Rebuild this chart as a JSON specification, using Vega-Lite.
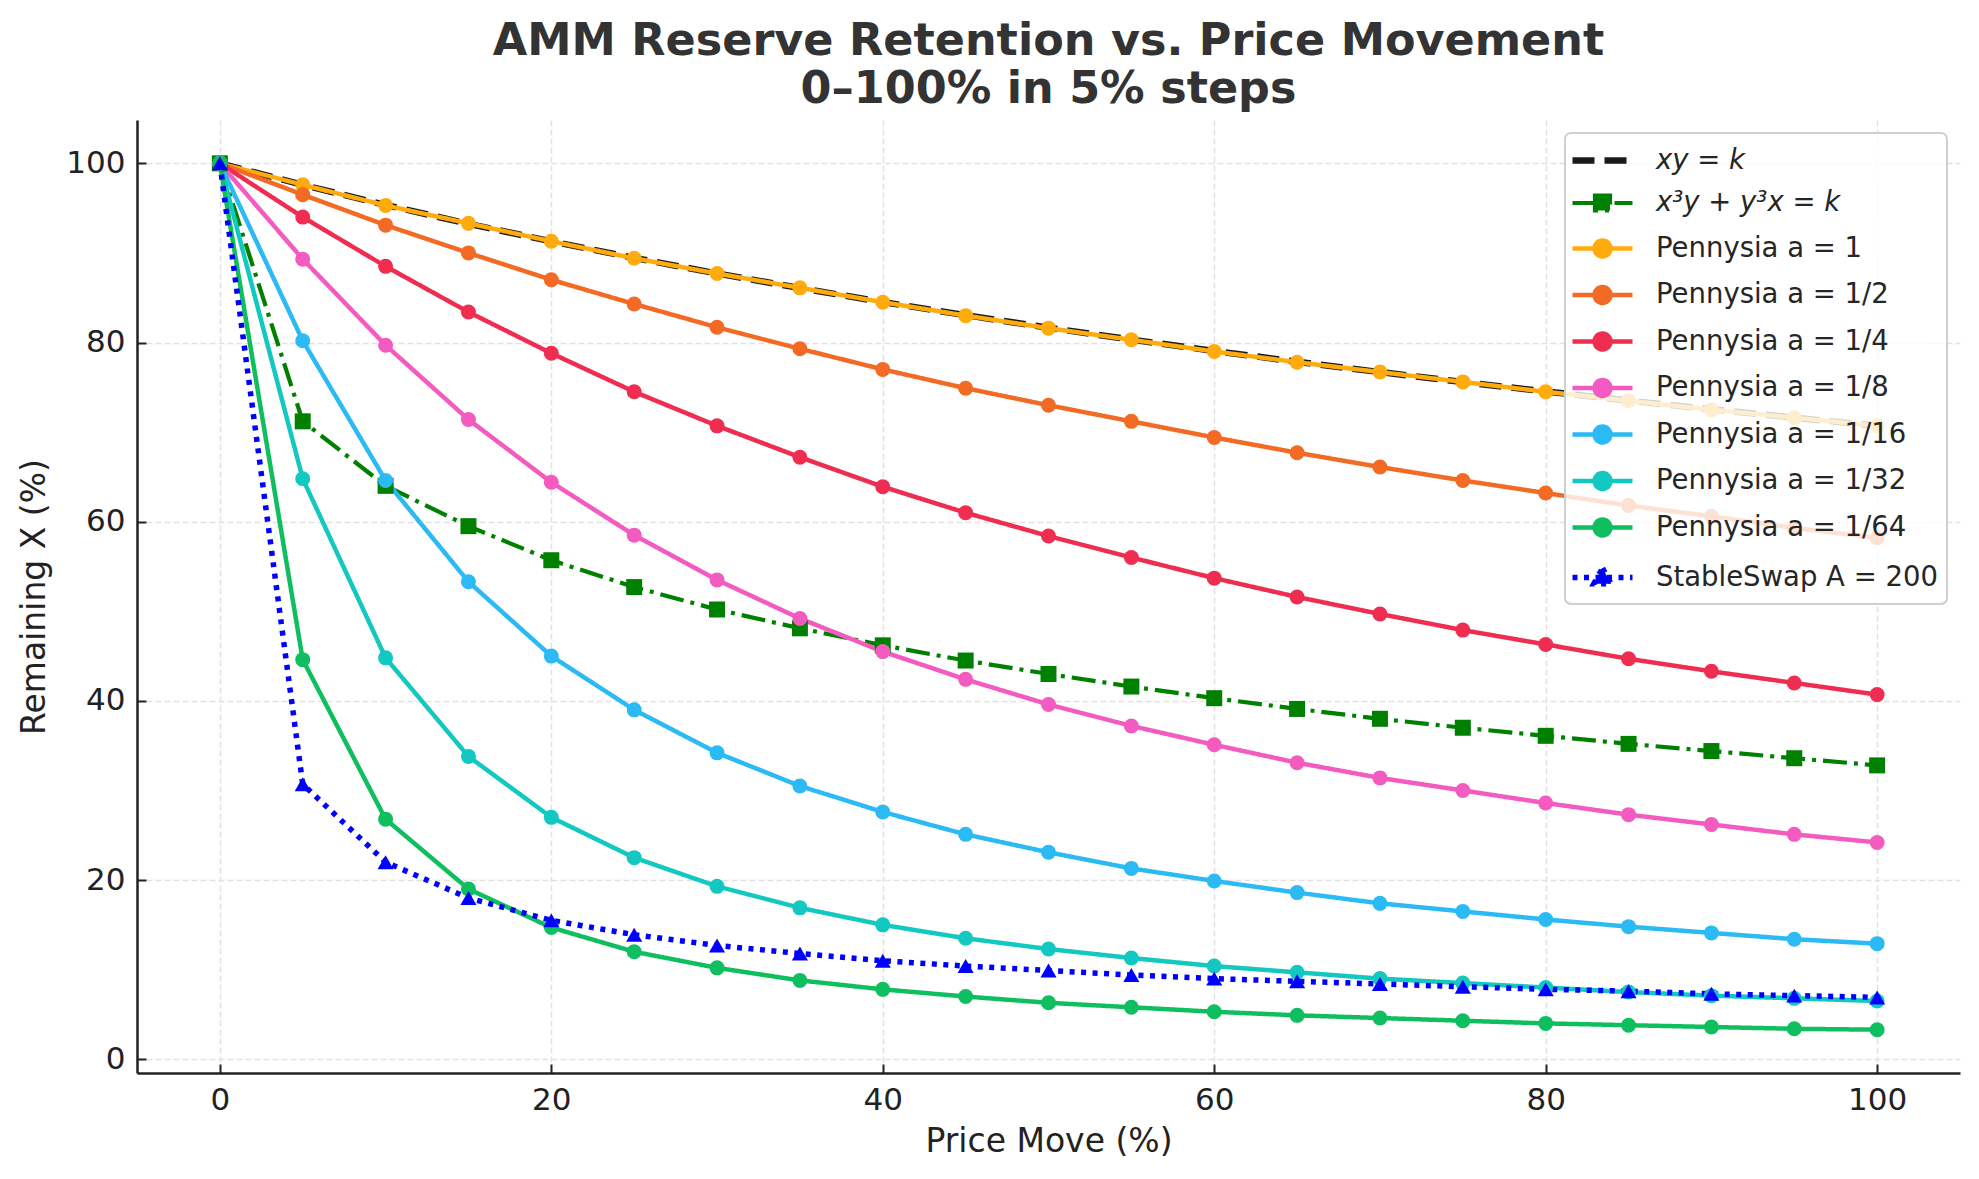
{
  "$schema": "https://vega.github.io/schema/vega-lite/v6.json",
  "width": 1823,
  "height": 953,
  "autosize": {"type": "none"},
  "padding": {"left": 137, "top": 120, "right": 19, "bottom": 106},
  "background": "white",
  "title": {
    "text": ["AMM Reserve Retention vs. Price Movement", "0–100% in 5% steps"],
    "font": "DejaVu Sans",
    "fontSize": 44.5,
    "fontWeight": "bold",
    "color": "#333333",
    "lineHeight": 48,
    "anchor": "middle",
    "offset": 8
  },
  "config": {
    "view": {"stroke": null},
    "axis": {
      "labelFont": "DejaVu Sans",
      "labelFontSize": 31,
      "labelColor": "#222222",
      "titleFont": "DejaVu Sans",
      "titleFontSize": 33,
      "titleFontWeight": "normal",
      "titleColor": "#222222",
      "domainColor": "#222222",
      "domainWidth": 2.5,
      "tickColor": "#222222",
      "tickWidth": 2,
      "tickSize": -9,
      "labelPadding": 21,
      "gridColor": "#e2e2e2",
      "gridDash": [6, 3],
      "gridWidth": 1.5
    },
    "legend": {
      "labelFont": "DejaVu Sans",
      "labelFontSize": 27.5,
      "labelColor": "#262626",
      "labelLimit": 500
    }
  },
  "data": {
    "values": [
      {"s": "xy = k", "p": 0, "v": 100}, {"s": "xy = k", "p": 5, "v": 97.59}, {"s": "xy = k", "p": 10, "v": 95.35}, {"s": "xy = k", "p": 15, "v": 93.25}, {"s": "xy = k", "p": 20, "v": 91.29}, {"s": "xy = k", "p": 25, "v": 89.44}, {"s": "xy = k", "p": 30, "v": 87.71}, {"s": "xy = k", "p": 35, "v": 86.07}, {"s": "xy = k", "p": 40, "v": 84.52}, {"s": "xy = k", "p": 45, "v": 83.05}, {"s": "xy = k", "p": 50, "v": 81.65}, {"s": "xy = k", "p": 55, "v": 80.32}, {"s": "xy = k", "p": 60, "v": 79.06}, {"s": "xy = k", "p": 65, "v": 77.85}, {"s": "xy = k", "p": 70, "v": 76.70}, {"s": "xy = k", "p": 75, "v": 75.59}, {"s": "xy = k", "p": 80, "v": 74.54}, {"s": "xy = k", "p": 85, "v": 73.52}, {"s": "xy = k", "p": 90, "v": 72.55}, {"s": "xy = k", "p": 95, "v": 71.61}, {"s": "xy = k", "p": 100, "v": 70.71},
      {"s": "x³y + y³x = k", "p": 0, "v": 100}, {"s": "x³y + y³x = k", "p": 5, "v": 71.2}, {"s": "x³y + y³x = k", "p": 10, "v": 64.0}, {"s": "x³y + y³x = k", "p": 15, "v": 59.5}, {"s": "x³y + y³x = k", "p": 20, "v": 55.7}, {"s": "x³y + y³x = k", "p": 25, "v": 52.7}, {"s": "x³y + y³x = k", "p": 30, "v": 50.2}, {"s": "x³y + y³x = k", "p": 35, "v": 48.1}, {"s": "x³y + y³x = k", "p": 40, "v": 46.2}, {"s": "x³y + y³x = k", "p": 45, "v": 44.5}, {"s": "x³y + y³x = k", "p": 50, "v": 43.0}, {"s": "x³y + y³x = k", "p": 55, "v": 41.6}, {"s": "x³y + y³x = k", "p": 60, "v": 40.3}, {"s": "x³y + y³x = k", "p": 65, "v": 39.1}, {"s": "x³y + y³x = k", "p": 70, "v": 38.0}, {"s": "x³y + y³x = k", "p": 75, "v": 37.0}, {"s": "x³y + y³x = k", "p": 80, "v": 36.1}, {"s": "x³y + y³x = k", "p": 85, "v": 35.2}, {"s": "x³y + y³x = k", "p": 90, "v": 34.4}, {"s": "x³y + y³x = k", "p": 95, "v": 33.6}, {"s": "x³y + y³x = k", "p": 100, "v": 32.8},
      {"s": "Pennysia a = 1", "p": 0, "v": 100}, {"s": "Pennysia a = 1", "p": 5, "v": 97.6}, {"s": "Pennysia a = 1", "p": 10, "v": 95.3}, {"s": "Pennysia a = 1", "p": 15, "v": 93.3}, {"s": "Pennysia a = 1", "p": 20, "v": 91.3}, {"s": "Pennysia a = 1", "p": 25, "v": 89.4}, {"s": "Pennysia a = 1", "p": 30, "v": 87.7}, {"s": "Pennysia a = 1", "p": 35, "v": 86.1}, {"s": "Pennysia a = 1", "p": 40, "v": 84.5}, {"s": "Pennysia a = 1", "p": 45, "v": 83.0}, {"s": "Pennysia a = 1", "p": 50, "v": 81.6}, {"s": "Pennysia a = 1", "p": 55, "v": 80.3}, {"s": "Pennysia a = 1", "p": 60, "v": 79.0}, {"s": "Pennysia a = 1", "p": 65, "v": 77.8}, {"s": "Pennysia a = 1", "p": 70, "v": 76.7}, {"s": "Pennysia a = 1", "p": 75, "v": 75.6}, {"s": "Pennysia a = 1", "p": 80, "v": 74.5}, {"s": "Pennysia a = 1", "p": 85, "v": 73.5}, {"s": "Pennysia a = 1", "p": 90, "v": 72.5}, {"s": "Pennysia a = 1", "p": 95, "v": 71.6}, {"s": "Pennysia a = 1", "p": 100, "v": 70.7},
      {"s": "Pennysia a = 1/2", "p": 0, "v": 100}, {"s": "Pennysia a = 1/2", "p": 5, "v": 96.5}, {"s": "Pennysia a = 1/2", "p": 10, "v": 93.1}, {"s": "Pennysia a = 1/2", "p": 15, "v": 90.0}, {"s": "Pennysia a = 1/2", "p": 20, "v": 87.0}, {"s": "Pennysia a = 1/2", "p": 25, "v": 84.3}, {"s": "Pennysia a = 1/2", "p": 30, "v": 81.7}, {"s": "Pennysia a = 1/2", "p": 35, "v": 79.3}, {"s": "Pennysia a = 1/2", "p": 40, "v": 77.0}, {"s": "Pennysia a = 1/2", "p": 45, "v": 74.9}, {"s": "Pennysia a = 1/2", "p": 50, "v": 73.0}, {"s": "Pennysia a = 1/2", "p": 55, "v": 71.2}, {"s": "Pennysia a = 1/2", "p": 60, "v": 69.4}, {"s": "Pennysia a = 1/2", "p": 65, "v": 67.7}, {"s": "Pennysia a = 1/2", "p": 70, "v": 66.1}, {"s": "Pennysia a = 1/2", "p": 75, "v": 64.6}, {"s": "Pennysia a = 1/2", "p": 80, "v": 63.2}, {"s": "Pennysia a = 1/2", "p": 85, "v": 61.8}, {"s": "Pennysia a = 1/2", "p": 90, "v": 60.6}, {"s": "Pennysia a = 1/2", "p": 95, "v": 59.3}, {"s": "Pennysia a = 1/2", "p": 100, "v": 58.2},
      {"s": "Pennysia a = 1/4", "p": 0, "v": 100}, {"s": "Pennysia a = 1/4", "p": 5, "v": 94.0}, {"s": "Pennysia a = 1/4", "p": 10, "v": 88.5}, {"s": "Pennysia a = 1/4", "p": 15, "v": 83.4}, {"s": "Pennysia a = 1/4", "p": 20, "v": 78.8}, {"s": "Pennysia a = 1/4", "p": 25, "v": 74.5}, {"s": "Pennysia a = 1/4", "p": 30, "v": 70.7}, {"s": "Pennysia a = 1/4", "p": 35, "v": 67.2}, {"s": "Pennysia a = 1/4", "p": 40, "v": 63.9}, {"s": "Pennysia a = 1/4", "p": 45, "v": 61.0}, {"s": "Pennysia a = 1/4", "p": 50, "v": 58.4}, {"s": "Pennysia a = 1/4", "p": 55, "v": 56.0}, {"s": "Pennysia a = 1/4", "p": 60, "v": 53.7}, {"s": "Pennysia a = 1/4", "p": 65, "v": 51.6}, {"s": "Pennysia a = 1/4", "p": 70, "v": 49.7}, {"s": "Pennysia a = 1/4", "p": 75, "v": 47.9}, {"s": "Pennysia a = 1/4", "p": 80, "v": 46.3}, {"s": "Pennysia a = 1/4", "p": 85, "v": 44.7}, {"s": "Pennysia a = 1/4", "p": 90, "v": 43.3}, {"s": "Pennysia a = 1/4", "p": 95, "v": 42.0}, {"s": "Pennysia a = 1/4", "p": 100, "v": 40.7},
      {"s": "Pennysia a = 1/8", "p": 0, "v": 100}, {"s": "Pennysia a = 1/8", "p": 5, "v": 89.3}, {"s": "Pennysia a = 1/8", "p": 10, "v": 79.7}, {"s": "Pennysia a = 1/8", "p": 15, "v": 71.4}, {"s": "Pennysia a = 1/8", "p": 20, "v": 64.4}, {"s": "Pennysia a = 1/8", "p": 25, "v": 58.5}, {"s": "Pennysia a = 1/8", "p": 30, "v": 53.5}, {"s": "Pennysia a = 1/8", "p": 35, "v": 49.2}, {"s": "Pennysia a = 1/8", "p": 40, "v": 45.5}, {"s": "Pennysia a = 1/8", "p": 45, "v": 42.4}, {"s": "Pennysia a = 1/8", "p": 50, "v": 39.6}, {"s": "Pennysia a = 1/8", "p": 55, "v": 37.2}, {"s": "Pennysia a = 1/8", "p": 60, "v": 35.1}, {"s": "Pennysia a = 1/8", "p": 65, "v": 33.1}, {"s": "Pennysia a = 1/8", "p": 70, "v": 31.4}, {"s": "Pennysia a = 1/8", "p": 75, "v": 30.0}, {"s": "Pennysia a = 1/8", "p": 80, "v": 28.6}, {"s": "Pennysia a = 1/8", "p": 85, "v": 27.3}, {"s": "Pennysia a = 1/8", "p": 90, "v": 26.2}, {"s": "Pennysia a = 1/8", "p": 95, "v": 25.1}, {"s": "Pennysia a = 1/8", "p": 100, "v": 24.2},
      {"s": "Pennysia a = 1/16", "p": 0, "v": 100}, {"s": "Pennysia a = 1/16", "p": 5, "v": 80.2}, {"s": "Pennysia a = 1/16", "p": 10, "v": 64.6}, {"s": "Pennysia a = 1/16", "p": 15, "v": 53.3}, {"s": "Pennysia a = 1/16", "p": 20, "v": 45.0}, {"s": "Pennysia a = 1/16", "p": 25, "v": 39.0}, {"s": "Pennysia a = 1/16", "p": 30, "v": 34.2}, {"s": "Pennysia a = 1/16", "p": 35, "v": 30.5}, {"s": "Pennysia a = 1/16", "p": 40, "v": 27.6}, {"s": "Pennysia a = 1/16", "p": 45, "v": 25.1}, {"s": "Pennysia a = 1/16", "p": 50, "v": 23.1}, {"s": "Pennysia a = 1/16", "p": 55, "v": 21.3}, {"s": "Pennysia a = 1/16", "p": 60, "v": 19.9}, {"s": "Pennysia a = 1/16", "p": 65, "v": 18.6}, {"s": "Pennysia a = 1/16", "p": 70, "v": 17.4}, {"s": "Pennysia a = 1/16", "p": 75, "v": 16.5}, {"s": "Pennysia a = 1/16", "p": 80, "v": 15.6}, {"s": "Pennysia a = 1/16", "p": 85, "v": 14.8}, {"s": "Pennysia a = 1/16", "p": 90, "v": 14.1}, {"s": "Pennysia a = 1/16", "p": 95, "v": 13.4}, {"s": "Pennysia a = 1/16", "p": 100, "v": 12.9},
      {"s": "Pennysia a = 1/32", "p": 0, "v": 100}, {"s": "Pennysia a = 1/32", "p": 5, "v": 64.8}, {"s": "Pennysia a = 1/32", "p": 10, "v": 44.8}, {"s": "Pennysia a = 1/32", "p": 15, "v": 33.8}, {"s": "Pennysia a = 1/32", "p": 20, "v": 27.0}, {"s": "Pennysia a = 1/32", "p": 25, "v": 22.5}, {"s": "Pennysia a = 1/32", "p": 30, "v": 19.3}, {"s": "Pennysia a = 1/32", "p": 35, "v": 16.9}, {"s": "Pennysia a = 1/32", "p": 40, "v": 15.0}, {"s": "Pennysia a = 1/32", "p": 45, "v": 13.5}, {"s": "Pennysia a = 1/32", "p": 50, "v": 12.3}, {"s": "Pennysia a = 1/32", "p": 55, "v": 11.3}, {"s": "Pennysia a = 1/32", "p": 60, "v": 10.4}, {"s": "Pennysia a = 1/32", "p": 65, "v": 9.7}, {"s": "Pennysia a = 1/32", "p": 70, "v": 9.0}, {"s": "Pennysia a = 1/32", "p": 75, "v": 8.5}, {"s": "Pennysia a = 1/32", "p": 80, "v": 8.0}, {"s": "Pennysia a = 1/32", "p": 85, "v": 7.5}, {"s": "Pennysia a = 1/32", "p": 90, "v": 7.1}, {"s": "Pennysia a = 1/32", "p": 95, "v": 6.8}, {"s": "Pennysia a = 1/32", "p": 100, "v": 6.5},
      {"s": "Pennysia a = 1/64", "p": 0, "v": 100}, {"s": "Pennysia a = 1/64", "p": 5, "v": 44.6}, {"s": "Pennysia a = 1/64", "p": 10, "v": 26.8}, {"s": "Pennysia a = 1/64", "p": 15, "v": 19.0}, {"s": "Pennysia a = 1/64", "p": 20, "v": 14.7}, {"s": "Pennysia a = 1/64", "p": 25, "v": 12.0}, {"s": "Pennysia a = 1/64", "p": 30, "v": 10.2}, {"s": "Pennysia a = 1/64", "p": 35, "v": 8.8}, {"s": "Pennysia a = 1/64", "p": 40, "v": 7.8}, {"s": "Pennysia a = 1/64", "p": 45, "v": 7.0}, {"s": "Pennysia a = 1/64", "p": 50, "v": 6.3}, {"s": "Pennysia a = 1/64", "p": 55, "v": 5.8}, {"s": "Pennysia a = 1/64", "p": 60, "v": 5.3}, {"s": "Pennysia a = 1/64", "p": 65, "v": 4.9}, {"s": "Pennysia a = 1/64", "p": 70, "v": 4.6}, {"s": "Pennysia a = 1/64", "p": 75, "v": 4.3}, {"s": "Pennysia a = 1/64", "p": 80, "v": 4.0}, {"s": "Pennysia a = 1/64", "p": 85, "v": 3.8}, {"s": "Pennysia a = 1/64", "p": 90, "v": 3.6}, {"s": "Pennysia a = 1/64", "p": 95, "v": 3.4}, {"s": "Pennysia a = 1/64", "p": 100, "v": 3.3},
      {"s": "StableSwap A = 200", "p": 0, "v": 100}, {"s": "StableSwap A = 200", "p": 5, "v": 30.7}, {"s": "StableSwap A = 200", "p": 10, "v": 22.0}, {"s": "StableSwap A = 200", "p": 15, "v": 18.0}, {"s": "StableSwap A = 200", "p": 20, "v": 15.5}, {"s": "StableSwap A = 200", "p": 25, "v": 13.9}, {"s": "StableSwap A = 200", "p": 30, "v": 12.7}, {"s": "StableSwap A = 200", "p": 35, "v": 11.8}, {"s": "StableSwap A = 200", "p": 40, "v": 11.0}, {"s": "StableSwap A = 200", "p": 45, "v": 10.4}, {"s": "StableSwap A = 200", "p": 50, "v": 9.9}, {"s": "StableSwap A = 200", "p": 55, "v": 9.4}, {"s": "StableSwap A = 200", "p": 60, "v": 9.0}, {"s": "StableSwap A = 200", "p": 65, "v": 8.7}, {"s": "StableSwap A = 200", "p": 70, "v": 8.4}, {"s": "StableSwap A = 200", "p": 75, "v": 8.1}, {"s": "StableSwap A = 200", "p": 80, "v": 7.8}, {"s": "StableSwap A = 200", "p": 85, "v": 7.6}, {"s": "StableSwap A = 200", "p": 90, "v": 7.3}, {"s": "StableSwap A = 200", "p": 95, "v": 7.1}, {"s": "StableSwap A = 200", "p": 100, "v": 6.9}
    ]
  },
  "encoding": {
    "x": {
      "field": "p",
      "type": "quantitative",
      "title": "Price Move (%)",
      "scale": {"domain": [-5, 105], "nice": false, "zero": false},
      "axis": {"values": [0, 20, 40, 60, 80, 100], "titlePadding": 10}
    },
    "y": {
      "field": "v",
      "type": "quantitative",
      "title": "Remaining X (%)",
      "scale": {"domain": [-1.535, 104.835], "nice": false, "zero": false},
      "axis": {"values": [0, 20, 40, 60, 80, 100], "titlePadding": 14}
    },
    "color": {
      "field": "s",
      "type": "nominal",
      "title": null,
      "scale": {
        "domain": ["xy = k", "x³y + y³x = k", "Pennysia a = 1", "Pennysia a = 1/2", "Pennysia a = 1/4", "Pennysia a = 1/8", "Pennysia a = 1/16", "Pennysia a = 1/32", "Pennysia a = 1/64", "StableSwap A = 200"],
        "range": ["#1a1a1a", "#008000", "#ffab0e", "#f26a24", "#ee2d50", "#f35bc1", "#2cbaf5", "#12c8c0", "#0fbf5f", "#0000ff"]
      },
      "legend": {
        "orient": "top-right",
        "offset": 13,
        "padding": 9,
        "fillColor": "rgba(255,255,255,0.8)",
        "strokeColor": "#cfcfcf",
        "cornerRadius": 6,
        "symbolSize": 900,
        "symbolOffset": 10,
        "labelOffset": 35,
        "rowPadding": 11.5,
        "encode": {
          "legend": {"update": {"strokeWidth": {"value": 2}}},
          "symbols": {
            "update": {
              "shape": {"signal": "datum.value === 'xy = k' ? 'M-2,0H2' : datum.value === 'x³y + y³x = k' ? 'M-2,0H2M-0.5,-0.5H0.5V0.5H-0.5Z' : datum.value === 'StableSwap A = 200' ? 'M-2,0H2M0,-0.62L0.58,0.42H-0.58Z' : 'M-2,0H2M-0.53,0A0.53,0.53,0,1,1,0.53,0A0.53,0.53,0,1,1,-0.53,0Z'"},
              "fill": {"signal": "scale('color', datum.value)"},
              "stroke": {"signal": "scale('color', datum.value)"},
              "fillOpacity": {"value": 1},
              "strokeOpacity": {"value": 1},
              "strokeWidth": {"signal": "datum.value === 'xy = k' ? 6.5 : datum.value === 'StableSwap A = 200' ? 5 : datum.value === 'x³y + y³x = k' ? 4.2 : 4.5"},
              "strokeDash": {"signal": "datum.value === 'xy = k' ? [20, 9] : datum.value === 'x³y + y³x = k' ? [20, 8, 4, 8] : datum.value === 'StableSwap A = 200' ? [5, 8] : [1, 0]"},
              "size": {"value": 900}
            }
          },
          "labels": {
            "update": {
              "fontStyle": {"signal": "datum.value === 'xy = k' || datum.value === 'x³y + y³x = k' ? 'italic' : 'normal'"}
            }
          }
        }
      }
    }
  },
  "layer": [
    {
      "mark": {"type": "line", "strokeCap": "butt"},
      "encoding": {
        "strokeDash": {
          "field": "s",
          "type": "nominal",
          "legend": null,
          "scale": {
            "type": "ordinal",
            "domain": ["xy = k", "x³y + y³x = k", "Pennysia a = 1", "Pennysia a = 1/2", "Pennysia a = 1/4", "Pennysia a = 1/8", "Pennysia a = 1/16", "Pennysia a = 1/32", "Pennysia a = 1/64", "StableSwap A = 200"],
            "range": [[22, 10], [24, 7, 4, 7], [1, 0], [1, 0], [1, 0], [1, 0], [1, 0], [1, 0], [1, 0], [5, 6.5]]
          }
        },
        "strokeWidth": {
          "field": "s",
          "type": "nominal",
          "legend": null,
          "scale": {
            "type": "ordinal",
            "domain": ["xy = k", "x³y + y³x = k", "Pennysia a = 1", "Pennysia a = 1/2", "Pennysia a = 1/4", "Pennysia a = 1/8", "Pennysia a = 1/16", "Pennysia a = 1/32", "Pennysia a = 1/64", "StableSwap A = 200"],
            "range": [6.5, 4.2, 4.5, 4.5, 4.5, 4.5, 4.5, 4.5, 4.5, 5.5]
          }
        }
      }
    },
    {
      "transform": [{"filter": "datum.s !== 'xy = k'"}],
      "mark": {"type": "point", "filled": true, "opacity": 1},
      "encoding": {
        "shape": {
          "field": "s",
          "type": "nominal",
          "legend": null,
          "scale": {
            "domain": ["x³y + y³x = k", "Pennysia a = 1", "Pennysia a = 1/2", "Pennysia a = 1/4", "Pennysia a = 1/8", "Pennysia a = 1/16", "Pennysia a = 1/32", "Pennysia a = 1/64", "StableSwap A = 200"],
            "range": ["square", "circle", "circle", "circle", "circle", "circle", "circle", "circle", "triangle-up"]
          }
        },
        "size": {
          "field": "s",
          "type": "nominal",
          "legend": null,
          "scale": {
            "type": "ordinal",
            "domain": ["x³y + y³x = k", "Pennysia a = 1", "Pennysia a = 1/2", "Pennysia a = 1/4", "Pennysia a = 1/8", "Pennysia a = 1/16", "Pennysia a = 1/32", "Pennysia a = 1/64", "StableSwap A = 200"],
            "range": [256, 225, 225, 225, 225, 225, 225, 225, 260]
          }
        }
      }
    }
  ]
}
